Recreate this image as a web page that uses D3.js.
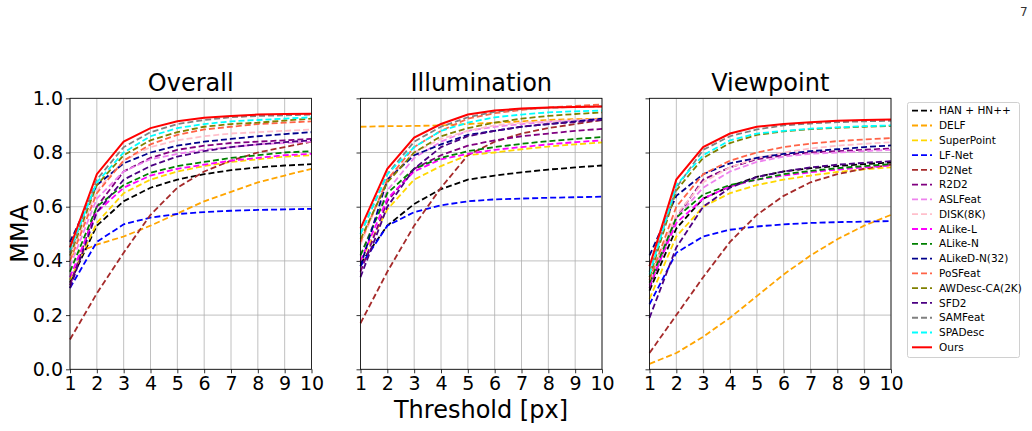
<!DOCTYPE html>
<html>
<head>
<meta charset="utf-8">
<script src="https://cdn.jsdelivr.net/npm/d3@7"></script>
<style>
  body { margin: 0; background: #fff; }
  text { font-family: "DejaVu Sans", sans-serif; fill: #000; }
  .grid line { stroke: #b0b0b0; stroke-width: 0.8; }
  .axis path, .axis line { stroke: #000; stroke-width: 0.8; }
</style>
</head>
<body>
<script>
// thresholds and method names
var thresholds = [1, 2, 3, 4, 5, 6, 7, 8, 9, 10];
var methods = ["HAN + HN++", "DELF", "SuperPoint", "LF-Net", "D2Net", "R2D2", "ASLFeat", "DISK(8K)",
    "ALike-L", "ALike-N", "ALikeD-N(32)", "PoSFeat", "AWDesc-CA(2K)", "SFD2", "SAMFeat", "SPADesc", "Ours"];
var panelTitles = ["Overall", "Illumination", "Viewpoint"];
var yTicks = [0.0, 0.2, 0.4, 0.6, 0.8, 1.0];

// MMA values, one row per method (same order as methods)
var overallMMA = [
    [0.32, 0.53, 0.62, 0.67, 0.70, 0.72, 0.735, 0.745, 0.752, 0.757],
    [0.42, 0.46, 0.49, 0.53, 0.575, 0.62, 0.655, 0.69, 0.715, 0.74],
    [0.33, 0.54, 0.65, 0.70, 0.73, 0.75, 0.765, 0.775, 0.785, 0.79],
    [0.30, 0.47, 0.535, 0.56, 0.573, 0.58, 0.585, 0.588, 0.59, 0.592],
    [0.11, 0.28, 0.43, 0.57, 0.67, 0.73, 0.77, 0.80, 0.82, 0.84],
    [0.31, 0.60, 0.73, 0.78, 0.81, 0.825, 0.835, 0.84, 0.845, 0.85],
    [0.38, 0.63, 0.73, 0.775, 0.795, 0.81, 0.82, 0.83, 0.835, 0.84],
    [0.41, 0.66, 0.77, 0.82, 0.845, 0.86, 0.87, 0.875, 0.88, 0.885],
    [0.34, 0.58, 0.67, 0.715, 0.74, 0.755, 0.77, 0.78, 0.79, 0.795],
    [0.36, 0.60, 0.68, 0.725, 0.75, 0.765, 0.78, 0.79, 0.80, 0.805],
    [0.47, 0.68, 0.76, 0.80, 0.825, 0.84, 0.85, 0.86, 0.868, 0.875],
    [0.40, 0.65, 0.77, 0.83, 0.865, 0.885, 0.895, 0.905, 0.91, 0.915],
    [0.42, 0.68, 0.79, 0.845, 0.875, 0.895, 0.905, 0.91, 0.918, 0.925],
    [0.30, 0.58, 0.70, 0.75, 0.785, 0.805, 0.82, 0.83, 0.838, 0.845],
    [0.43, 0.70, 0.82, 0.875, 0.905, 0.92, 0.93, 0.935, 0.937, 0.94],
    [0.44, 0.69, 0.80, 0.86, 0.89, 0.905, 0.915, 0.92, 0.925, 0.93],
    [0.45, 0.72, 0.84, 0.89, 0.915, 0.928, 0.935, 0.94, 0.942, 0.943]
];
var illuminationMMA = [
    [0.39, 0.53, 0.61, 0.665, 0.70, 0.715, 0.727, 0.737, 0.745, 0.752],
    [0.895, 0.897, 0.898, 0.90, 0.905, 0.91, 0.915, 0.92, 0.923, 0.925],
    [0.40, 0.59, 0.70, 0.75, 0.79, 0.80, 0.812, 0.822, 0.83, 0.837],
    [0.38, 0.53, 0.58, 0.605, 0.62, 0.627, 0.63, 0.633, 0.635, 0.637],
    [0.17, 0.36, 0.53, 0.67, 0.79, 0.84, 0.87, 0.89, 0.905, 0.92],
    [0.36, 0.62, 0.74, 0.79, 0.825, 0.845, 0.86, 0.87, 0.88, 0.887],
    [0.42, 0.66, 0.78, 0.84, 0.88, 0.895, 0.905, 0.913, 0.918, 0.922],
    [0.46, 0.70, 0.80, 0.85, 0.88, 0.90, 0.91, 0.915, 0.92, 0.925],
    [0.40, 0.63, 0.73, 0.775, 0.795, 0.81, 0.82, 0.83, 0.838, 0.845],
    [0.42, 0.65, 0.74, 0.78, 0.805, 0.82, 0.832, 0.842, 0.85, 0.857],
    [0.38, 0.70, 0.79, 0.83, 0.865, 0.88, 0.895, 0.905, 0.915, 0.925],
    [0.47, 0.70, 0.82, 0.88, 0.925, 0.945, 0.957, 0.966, 0.972, 0.977],
    [0.48, 0.69, 0.80, 0.86, 0.89, 0.91, 0.925, 0.935, 0.942, 0.948],
    [0.34, 0.60, 0.74, 0.82, 0.86, 0.88, 0.895, 0.905, 0.912, 0.92],
    [0.50, 0.72, 0.84, 0.895, 0.93, 0.95, 0.96, 0.965, 0.968, 0.97],
    [0.50, 0.72, 0.82, 0.88, 0.91, 0.93, 0.94, 0.948, 0.952, 0.955],
    [0.52, 0.74, 0.855, 0.905, 0.94, 0.955, 0.962, 0.966, 0.968, 0.97]
];
var viewpointMMA = [
    [0.29, 0.52, 0.63, 0.675, 0.71, 0.73, 0.742, 0.75, 0.757, 0.763],
    [0.02, 0.06, 0.12, 0.19, 0.27, 0.35, 0.42, 0.48, 0.53, 0.57],
    [0.26, 0.49, 0.60, 0.65, 0.68, 0.70, 0.715, 0.728, 0.738, 0.745],
    [0.24, 0.43, 0.49, 0.515, 0.527, 0.535, 0.54, 0.543, 0.545, 0.547],
    [0.06, 0.20, 0.34, 0.47, 0.57, 0.64, 0.69, 0.72, 0.74, 0.755],
    [0.30, 0.56, 0.70, 0.745, 0.775, 0.79, 0.80, 0.805, 0.81, 0.815],
    [0.33, 0.56, 0.67, 0.73, 0.765, 0.785, 0.795, 0.80, 0.805, 0.81],
    [0.34, 0.57, 0.69, 0.745, 0.78, 0.80, 0.815, 0.825, 0.832, 0.838],
    [0.31, 0.54, 0.63, 0.675, 0.70, 0.715, 0.727, 0.737, 0.745, 0.752],
    [0.32, 0.56, 0.645, 0.68, 0.70, 0.72, 0.732, 0.742, 0.75, 0.757],
    [0.42, 0.64, 0.72, 0.76, 0.78, 0.795, 0.805, 0.812, 0.82, 0.826],
    [0.33, 0.60, 0.72, 0.77, 0.80, 0.82, 0.833, 0.842, 0.848, 0.853],
    [0.34, 0.66, 0.78, 0.835, 0.865, 0.878, 0.886, 0.891, 0.895, 0.898],
    [0.19, 0.45, 0.60, 0.67, 0.71, 0.73, 0.745, 0.755, 0.762, 0.768],
    [0.36, 0.67, 0.81, 0.86, 0.885, 0.90, 0.907, 0.912, 0.915, 0.917],
    [0.35, 0.68, 0.79, 0.845, 0.87, 0.88, 0.888, 0.893, 0.897, 0.90],
    [0.38, 0.70, 0.82, 0.87, 0.895, 0.905, 0.912, 0.917, 0.92, 0.922]
];
var panelData = [overallMMA, illuminationMMA, viewpointMMA];

// colours for each method
var color = d3.scaleOrdinal()
    .domain(methods)
    .range(["black", "orange", "gold", "blue", "brown", "purple", "violet", "pink",
        "magenta", "green", "darkblue", "tomato", "olive", "indigo", "gray", "cyan", "red"]);

var svg = d3.select("body").append("svg")
    .attr("width", 1032)
    .attr("height", 431);

// page number in corner
svg.append("text")
    .attr("x", 1020).attr("y", 16)
    .style("font-size", "12px")
    .style("fill", "#333")
    .text("7");

var panelLeft = [70, 360.5, 649.5],
    panelWidth = 241.5,
    plotTop = 98.3,
    plotHeight = 271;

var y = d3.scaleLinear().domain([0, 1]).range([plotTop + plotHeight, plotTop]);

var line = d3.line();

panelData.forEach(function (data, p) {
    var x = d3.scaleLinear().domain([1, 10]).range([panelLeft[p], panelLeft[p] + panelWidth]);
    var g = svg.append("g");

    // grid
    var grid = g.append("g").attr("class", "grid");
    grid.selectAll("line.v").data(thresholds).enter().append("line")
        .attr("x1", function (d) { return x(d); }).attr("x2", function (d) { return x(d); })
        .attr("y1", plotTop).attr("y2", plotTop + plotHeight);
    grid.selectAll("line.h").data(yTicks).enter().append("line")
        .attr("x1", x(1)).attr("x2", x(10))
        .attr("y1", function (d) { return y(d); }).attr("y2", function (d) { return y(d); });

    // curves
    line.x(function (d, i) { return x(thresholds[i]); })
        .y(function (d) { return y(d); });
    g.selectAll("path.curve").data(data).enter().append("path")
        .attr("class", "curve")
        .attr("d", line)
        .attr("fill", "none")
        .attr("stroke", function (d, i) { return color(methods[i]); })
        .attr("stroke-width", function (d, i) { return methods[i] === "Ours" ? 2 : 1.8; })
        .attr("stroke-dasharray", function (d, i) { return methods[i] === "Ours" ? null : "6,3"; });

    // frame
    g.append("rect")
        .attr("x", x(1)).attr("y", plotTop)
        .attr("width", panelWidth).attr("height", plotHeight)
        .attr("fill", "none").attr("stroke", "#000").attr("stroke-width", 0.8);

    // x axis
    var xa = g.append("g").attr("class", "axis")
        .attr("transform", "translate(0," + (plotTop + plotHeight) + ")")
        .call(d3.axisBottom(x).tickValues(thresholds).tickFormat(d3.format("d")).tickSize(4).tickPadding(3));
    xa.select(".domain").remove();
    xa.selectAll("text").style("font-size", "19px");

    // y axis
    var ya = g.append("g").attr("class", "axis")
        .attr("transform", "translate(" + x(1) + ",0)")
        .call(d3.axisLeft(y).tickValues(yTicks).tickSize(4).tickPadding(3)
            .tickFormat(p === 0 ? d3.format(".1f") : ""));
    ya.select(".domain").remove();
    ya.selectAll("text").style("font-size", "19px");

    // title
    g.append("text")
        .attr("x", x(5.5)).attr("y", 91)
        .attr("text-anchor", "middle")
        .style("font-size", "24px")
        .text(panelTitles[p]);
});

// axis labels
svg.append("text")
    .attr("transform", "translate(28," + (plotTop + plotHeight / 2) + ") rotate(-90)")
    .attr("text-anchor", "middle")
    .style("font-size", "24px")
    .text("MMA");

svg.append("text")
    .attr("x", 481).attr("y", 418)
    .attr("text-anchor", "middle")
    .style("font-size", "24px")
    .text("Threshold [px]");

// legend
var legend = svg.append("g");
legend.append("rect")
    .attr("x", 907.5).attr("y", 102.5)
    .attr("width", 112).attr("height", 255)
    .attr("rx", 2)
    .attr("fill", "#fff").attr("stroke", "#d0d0d0").attr("stroke-width", 1);

var ly = d3.scalePoint().domain(methods).range([110.7, 347.3]);

var item = legend.selectAll("g.item").data(methods).enter().append("g")
    .attr("transform", function (d) { return "translate(0," + ly(d) + ")"; });
item.append("line")
    .attr("x1", 912).attr("x2", 932)
    .attr("stroke", function (d) { return color(d); })
    .attr("stroke-width", function (d) { return d === "Ours" ? 2 : 1.8; })
    .attr("stroke-dasharray", function (d) { return d === "Ours" ? null : "6,3"; });
item.append("text")
    .attr("x", 939).attr("dy", "0.35em")
    .style("font-size", "10.5px")
    .text(function (d) { return d; });
</script>
</body>
</html>
